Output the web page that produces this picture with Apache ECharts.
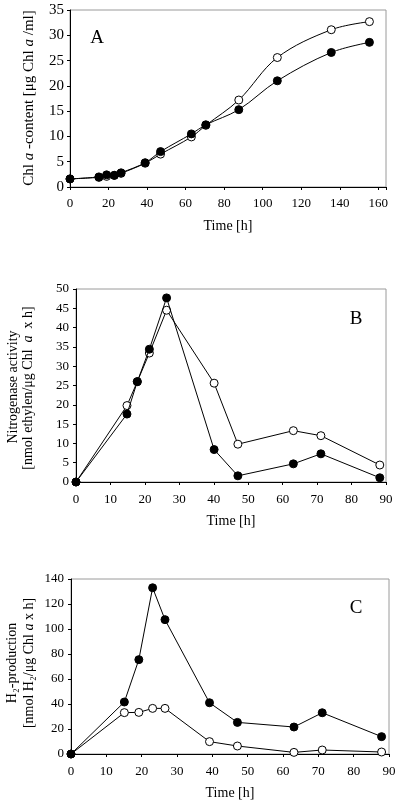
<!DOCTYPE html>
<html><head><meta charset="utf-8">
<script src="https://cdn.jsdelivr.net/npm/echarts@6/dist/echarts.min.js"></script>
<style>html,body{margin:0;padding:0;background:#fff}#c{width:400px;height:808px}</style>
</head><body><div id="c"></div>
<script>
// Panel A: Chl a content
const timeA = [0, 15, 19, 23, 26.5, 39, 47, 63, 70.5, 87.6, 107.6, 135.6, 155.4];
const openA = [1.6, 1.9, 2.1, 2.3, 2.7, 4.7, 6.5, 9.9, 12.2, 17.2, 25.6, 31.1, 32.7];
const filledA = [1.6, 2.0, 2.4, 2.3, 2.8, 4.8, 7.0, 10.5, 12.3, 15.3, 21.0, 26.6, 28.6];
// Panel B: Nitrogenase activity
const timeB = [0, 14.8, 17.8, 21.3, 26.3, 40.1, 47, 63.1, 71.1, 88.2];
const openB = [0, 19.8, 26.0, 33.4, 44.5, 25.6, 9.8, 13.3, 12.0, 4.4];
const filledB = [0, 17.6, 26.0, 34.4, 47.7, 8.4, 1.6, 4.7, 7.3, 1.1];
// Panel C: H2 production
const timeC = [0, 15.1, 19.2, 23.1, 26.6, 39.2, 47.1, 63.1, 71.1, 87.9];
const openC = [0, 33.1, 33.3, 36.5, 36.5, 9.9, 6.4, 1.3, 3.2, 1.6];
const filledC = [0, 41.6, 75.5, 133, 107.5, 41, 25.3, 21.6, 33, 13.9];

const FONT = '"Liberation Serif", "Times New Roman", serif';
const chart = echarts.init(document.getElementById('c'), null, {renderer: 'canvas'});

function pairs(t, v) { return t.map((x, i) => [x, v[i]]); }
function xAx(gi, max, interval, margin, fs) {
  return {
    gridIndex: gi, type: 'value', min: 0, max: max, interval: interval,
    name: 'Time [h]', nameLocation: 'middle', nameGap: 32,
    nameTextStyle: {fontFamily: FONT, fontSize: 14, color: '#000'},
    axisLine: {onZero: false, lineStyle: {color: '#000', width: 1}},
    axisTick: {inside: false, length: 3, lineStyle: {color: '#000'}},
    axisLabel: {fontFamily: FONT, fontSize: fs, color: '#000', margin: margin,
      formatter: v => (Math.abs(v / interval - Math.round(v / interval)) < 1e-6 ? String(v) : '')},
    splitLine: {show: false}
  };
}
function yAx(gi, max, interval, margin, fs) {
  return {
    gridIndex: gi, type: 'value', min: 0, max: max, interval: interval,
    axisLine: {show: true, onZero: false, lineStyle: {color: '#000', width: 1}},
    axisTick: {show: true, inside: false, length: 3, lineStyle: {color: '#000'}},
    axisLabel: {fontFamily: FONT, fontSize: fs, color: '#000', margin: margin},
    splitLine: {show: false}
  };
}
function ser(gi, t, v, filled, smooth) {
  return {
    type: 'line', xAxisIndex: gi, yAxisIndex: gi, data: pairs(t, v),
    smooth: smooth, symbol: 'circle', symbolSize: 8, showSymbol: true,
    lineStyle: {color: '#000', width: 1},
    itemStyle: {color: filled ? '#000' : '#fff', borderColor: '#000', borderWidth: 1},
    animation: false, z: filled ? 3 : 2
  };
}
const gridStyle = {show: true, borderColor: '#9a9a9a', borderWidth: 1, backgroundColor: 'transparent'};
const option = {
  animation: false,
  grid: [
    Object.assign({left: 70, top: 10, right: 14, bottom: 621}, gridStyle),
    Object.assign({left: 76, top: 289, right: 14, bottom: 326}, gridStyle),
    Object.assign({left: 71, top: 579, right: 11, bottom: 54}, gridStyle)
  ],
  xAxis: [xAx(0, 164, 20, 10, 13), xAx(1, 90, 10, 11, 13), xAx(2, 90, 10, 11, 13)],
  yAxis: [yAx(0, 35, 5, 6, 15), yAx(1, 50, 5, 7, 13), yAx(2, 140, 20, 7, 13)],
  series: [
    ser(0, timeA, openA, false, 0.35), ser(0, timeA, filledA, true, 0.35),
    ser(1, timeB, openB, false, false), ser(1, timeB, filledB, true, false),
    ser(2, timeC, openC, false, false), ser(2, timeC, filledC, true, false)
  ],
  graphic: [
    {type: 'text', x: 29, y: 98, rotation: Math.PI / 2,
     style: {text: '{n|Chl }{i|a}{n| -content [μg Chl }{i|a}{n| /ml]}', align: 'center', verticalAlign: 'middle',
       rich: {n: {fontFamily: FONT, fontSize: 15, fill: '#000'}, i: {fontFamily: FONT, fontSize: 15, fontStyle: 'italic', fill: '#000'}}}},
    {type: 'text', x: 13, y: 387, rotation: Math.PI / 2,
     style: {text: 'Nitrogenase activity', fontFamily: FONT, fontSize: 14, fill: '#000', align: 'center', verticalAlign: 'middle'}},
    {type: 'text', x: 28, y: 388, rotation: Math.PI / 2,
     style: {text: '{n|[nmol ethylen/μg Chl  }{i|a}{n|  x h]}', align: 'center', verticalAlign: 'middle',
       rich: {n: {fontFamily: FONT, fontSize: 14, fill: '#000'}, i: {fontFamily: FONT, fontSize: 14, fontStyle: 'italic', fill: '#000'}}}},
    {type: 'text', x: 12, y: 663, rotation: Math.PI / 2,
     style: {text: 'H₂-production', fontFamily: FONT, fontSize: 14, fill: '#000', align: 'center', verticalAlign: 'middle'}},
    {type: 'text', x: 29, y: 663, rotation: Math.PI / 2,
     style: {text: '{n|[nmol H₂/μg Chl }{i|a}{n| x h]}', align: 'center', verticalAlign: 'middle',
       rich: {n: {fontFamily: FONT, fontSize: 14, fill: '#000'}, i: {fontFamily: FONT, fontSize: 14, fontStyle: 'italic', fill: '#000'}}}},
    {type: 'text', x: 97, y: 38, style: {text: 'A', fontFamily: FONT, fontSize: 19, fill: '#000', align: 'center', verticalAlign: 'middle'}},
    {type: 'text', x: 356, y: 319, style: {text: 'B', fontFamily: FONT, fontSize: 19, fill: '#000', align: 'center', verticalAlign: 'middle'}},
    {type: 'text', x: 356, y: 608, style: {text: 'C', fontFamily: FONT, fontSize: 19, fill: '#000', align: 'center', verticalAlign: 'middle'}}
  ]
};
chart.setOption(option);
</script>
</body></html>
